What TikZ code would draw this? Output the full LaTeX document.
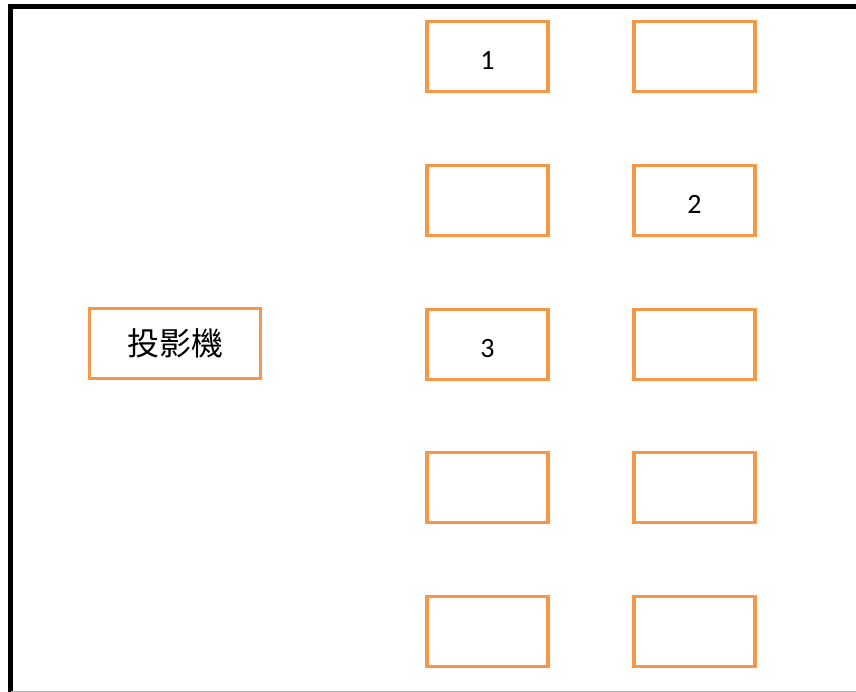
\documentclass[tikz,border=0pt]{standalone}
\usepackage{fontspec}
\setmainfont{Carlito}
\newfontfamily\cjk{Noto Sans CJK TC}
\usepackage{tikz}
\usepackage{xcolor}
\definecolor{seatorange}{HTML}{F79646}
\newcommand{\seatno}[1]{\raisebox{-4pt}[\height][0pt]{#1}}

\begin{document}
\begin{tikzpicture}[x=1pt,y=-1pt]
				\tikzstyle{every node}+=[inner sep=0pt]
				\tikzstyle{seat}=[draw=seatorange, line width=3.6pt, fill=white, minimum width=121pt, minimum height=70pt, font=\fontsize{28}{32}\selectfont]
				\useasboundingbox (0,0) rectangle (856,692);
				% walls
				\draw [black, line width=5pt] (10.5,692) -- (10.5,7) -- (856,7);
				\draw [gray!60, line width=1pt] (10.5,691) -- (856,691);
				% projector
				\node [seat, minimum width=171pt] (proj) at (175,343.5) {\cjk\fontsize{32}{36}\selectfont 投影機};
				% seats, left column
				\node [seat] (a1) at (487.5,56.5) {\seatno{1}};
				\node [seat] (a2) at (487.5,200.5) {};
				\node [seat] (a3) at (487.5,344.5) {\seatno{3}};
				\node [seat] (a4) at (487.5,487.5) {};
				\node [seat] (a5) at (487.5,631.5) {};
				% seats, right column
				\node [seat] (b1) at (694.5,56.5) {};
				\node [seat] (b2) at (694.5,200.5) {\seatno{2}};
				\node [seat] (b3) at (694.5,344.5) {};
				\node [seat] (b4) at (694.5,487.5) {};
				\node [seat] (b5) at (694.5,631.5) {};
				\end{tikzpicture}
\end{document}
